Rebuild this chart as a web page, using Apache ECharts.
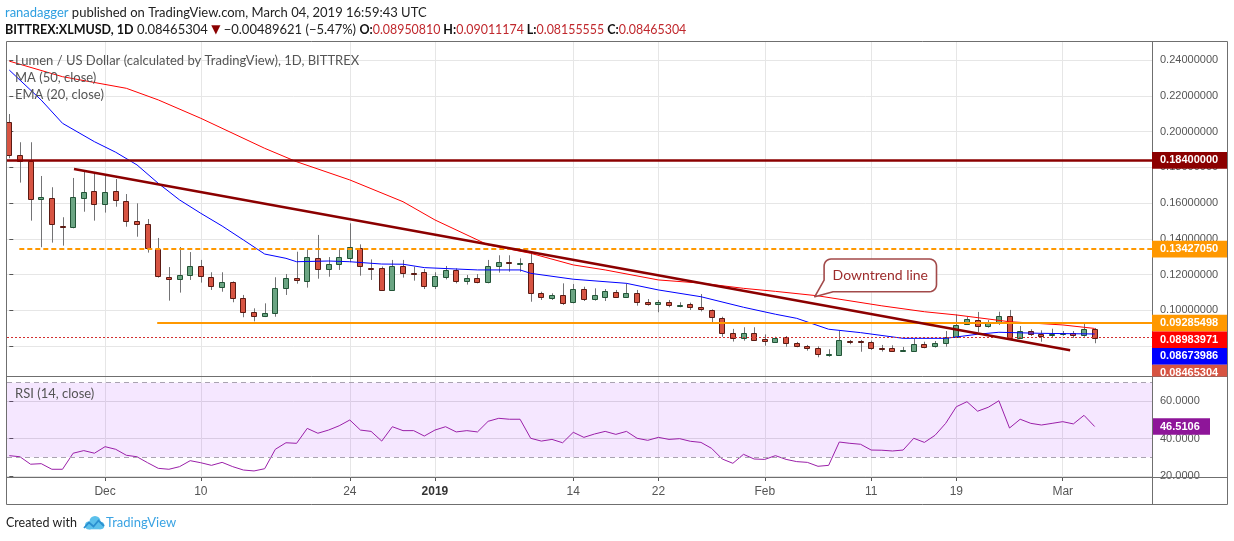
<!DOCTYPE html>
<html><head><meta charset="utf-8">
<script src="https://cdn.jsdelivr.net/npm/echarts@6/dist/echarts.min.js"></script>
<style>html,body{margin:0;padding:0;background:#fff}#c{width:1234px;height:541px}</style>
</head><body><div id="c"></div>
<script>
// ---- data (daily, index 0 = 2018-11-22 ... index 102 = 2019-03-04) ----
const startDate = Date.UTC(2018, 10, 22);
const dates = [];
for (let i = 0; i < 103; i++) dates.push(new Date(startDate + i * 86400000).toISOString().slice(0, 10));

const open = [.2052,.1868,.1834,.1621,.1627,.1472,.1468,.1631,.1666,.1593,.1668,.1610,.1498,.1481,.1341,.1188,.1173,.1196,.1246,.1185,.1129,.1157,.1067,.0989,.0966,.0983,.1123,.1179,.1162,.1291,.1229,.1257,.1291,.1347,.1239,.1235,.1116,.1248,.1207,.1213,.1138,.1188,.1226,.1162,.1179,.1157,.1246,.1269,.1262,.1263,.1095,.1071,.1084,.1048,.1117,.1065,.1076,.1103,.1076,.1095,.1045,.1035,.1045,.1031,.1033,.1017,.1002,.0959,.0875,.0843,.0875,.0839,.0824,.0849,.0815,.0798,.0787,.0754,.0750,.0826,.0826,.0821,.0789,.0787,.0778,.0774,.0810,.0798,.0815,.0852,.0922,.0944,.0910,.0927,.0966,.0847,.0882,.0869,.0861,.0866,.0873,.0859,.0895081];
const high = [.2099,.1941,.1941,.1752,.1689,.1521,.1741,.1776,.1767,.1752,.1735,.1651,.1599,.1511,.1405,.1242,.1354,.1326,.1282,.1213,.1213,.1162,.1086,.1011,.1039,.1185,.1203,.1328,.1341,.1422,.1298,.1347,.1487,.1369,.1285,.1245,.1282,.1282,.1244,.1231,.1213,.1248,.1235,.1198,.1203,.1282,.1308,.1308,.1291,.1325,.1104,.1095,.1151,.1147,.1132,.1123,.1119,.1114,.1151,.1114,.1063,.1058,.1058,.1045,.1043,.1091,.1005,.0964,.0896,.0905,.0905,.0865,.0852,.0856,.0823,.0806,.0798,.0782,.0884,.0834,.0834,.0830,.0806,.0804,.0795,.0839,.0824,.0828,.0884,.0977,.0964,.0991,.0945,.0992,.1002,.0912,.0894,.0888,.0897,.0884,.0884,.0933,.09011174];
const low = [.1851,.1715,.1502,.1353,.1379,.1362,.1459,.1552,.1502,.1547,.1580,.1468,.1412,.1323,.1183,.1054,.1099,.1170,.1155,.1114,.1104,.1045,.0961,.0938,.0962,.0964,.1086,.1149,.1127,.1177,.1188,.1226,.1269,.1194,.1170,.1110,.1110,.1183,.1166,.1119,.1119,.1173,.1151,.1144,.1151,.1151,.1211,.1216,.1216,.1048,.1058,.1058,.1030,.1039,.1052,.1054,.1052,.1071,.1071,.1026,.1026,.0989,.1017,.1017,.1002,.0994,.0933,.0852,.0825,.0830,.0830,.0802,.0819,.0796,.0793,.0774,.0737,.0740,.0746,.0810,.0768,.0778,.0769,.0768,.0768,.0770,.0787,.0791,.0796,.0849,.0918,.0879,.0903,.0918,.0834,.0843,.0856,.0824,.0846,.0858,.0846,.0852,.08155555];
const close = [.1868,.1834,.1621,.1633,.1481,.1468,.1633,.1661,.1593,.1661,.1616,.1498,.1481,.1347,.1190,.1173,.1196,.1246,.1190,.1134,.1157,.1067,.0989,.0966,.0983,.1123,.1179,.1168,.1297,.1229,.1257,.1297,.1353,.1246,.1233,.1116,.1248,.1207,.1204,.1138,.1192,.1226,.1166,.1179,.1157,.1246,.1269,.1263,.1264,.1095,.1073,.1084,.1043,.1117,.1063,.1084,.1108,.1076,.1095,.1045,.1033,.1045,.1028,.1032,.1017,.1005,.0961,.0875,.0843,.0875,.0832,.0826,.0843,.0815,.0798,.0787,.0754,.0755,.0832,.0821,.0821,.0787,.0787,.0774,.0780,.0810,.0793,.0817,.0852,.0916,.0950,.0910,.0929,.0966,.0843,.0884,.0865,.0856,.0869,.0872,.0859,.08954925,.08465304];

// MA (50, close) at these candle indexes
const maIdx = [0,5,11,14,18,24,27,32,37,40,45,49,53,56,61,65,69,72,76,82,86,89,94,99,102];
const maVal = [.2395,.2308,.2243,.2178,.2075,.1907,.1832,.1730,.1608,.1506,.1366,.1319,.1254,.1226,.1170,.1152,.1123,.1106,.1081,.1025,.0992,.0974,.0936,.0918,.08983971];
// EMA (20, close)
const emaIdx = [0,3,5,8,10,12,14,16,18,20,22,24,26,27,30,32,35,37,39,44,48,49,53,58,61,65,69,72,74,77,80,84,88,91,93,97,102];
const emaVal = [.2345,.2177,.2047,.1944,.1885,.1814,.1711,.1618,.1543,.1472,.1394,.1315,.1291,.1272,.1276,.1272,.1259,.1258,.1239,.1226,.1226,.1207,.1174,.1151,.1114,.1076,.1017,.0978,.0955,.0894,.0875,.0843,.0843,.0866,.0877,.0871,.08673986];
// RSI (14, close), one value per candle
const rsiVal = [30.9,30.3,26.3,26.6,23.6,23.6,32.2,33.6,32.2,35.7,34.3,31.1,30.3,27.1,24.1,23.6,25.0,28.2,27.1,25.7,27.3,25.0,23.2,22.7,23.9,34.3,37.8,37.5,45.5,42.9,44.6,46.9,50.0,44.6,43.9,38.7,46.4,44.3,44.3,41.4,44.6,46.4,43.6,44.3,43.6,49.3,50.9,50.4,50.4,40.2,38.7,39.6,37.8,43.4,40.7,42.5,43.9,42.3,43.9,40.2,39.1,40.7,39.6,40.0,38.6,38.0,34.8,29.1,26.8,31.6,29.1,28.9,30.9,28.9,27.7,27.3,25.2,25.7,38.2,37.5,37.0,33.9,33.8,33.4,33.9,40.2,38.0,41.8,48.2,57.1,59.8,54.7,56.8,60.3,45.7,50.4,48.2,47.3,48.2,49.1,47.9,52.5,46.5106];

// drawings
const resistance = 0.184;
const supportDashed = 0.1342705;
const supportSolid = 0.09285498;
const dashedStart = 0.94, solidStart = 13.9;
const trendStart = [6.08, 0.17912], trendEnd = [99.7, 0.0776];
const calloutTip = [75.7, 0.1076];

// ticks
const tickIdx = [9, 18, 32, 40, 53, 61, 71, 81, 89, 99];
const tickLabels = ['Dec', '10', '24', '2019', '14', '22', 'Feb', '11', '19', 'Mar'];
const priceTicks = [0.08, 0.10, 0.12, 0.14, 0.16, 0.18, 0.20, 0.22, 0.24];
const rsiTicks = [20, 40, 60];

// ---- chart ----
const X_MIN = -0.216, X_MAX = 107.39;
const Y_MIN = 0.063214, Y_MAX = 0.250224;
const R_MIN = 19.46, R_MAX = 73.03;
const AX_FONT = 'Liberation Sans';
const UI_FONT = 'Lato';

const candleData = open.map((o, i) => [i, o, close[i], low[i], high[i]]);
const maData = maIdx.map((x, k) => [x, maVal[k]]);
const emaData = emaIdx.map((x, k) => [x, emaVal[k]]);
const rsiData = rsiVal.map((v, i) => [i, v]);

const chart = echarts.init(document.getElementById('c'));

function xAxisCfg(grid, withLabels) {
  return {
    type: 'value', gridIndex: grid, min: X_MIN, max: X_MAX,
    axisLine: { show: false },
    axisTick: { show: withLabels, length: 4, customValues: tickIdx, lineStyle: { color: '#555' } },
    axisLabel: {
      show: withLabels, customValues: tickIdx, margin: 9, color: '#555', fontSize: 12, fontFamily: AX_FONT,
      formatter: v => { const k = tickIdx.indexOf(Math.round(v)); const t = k >= 0 ? tickLabels[k] : ''; return t === '2019' ? '{b|2019}' : t; },
      rich: { b: { fontWeight: 'bold', color: '#333', fontSize: 12, fontFamily: AX_FONT } }
    },
    splitLine: { show: true, lineStyle: { color: '#e6e6e6', width: 1 } }
  };
}

const option = {
  animation: false,
  textStyle: { fontFamily: UI_FONT },
  grid: [
    { left: 7, right: 82, top: 42, height: 334 },
    { left: 7, right: 82, top: 377, height: 100 }
  ],
  xAxis: [xAxisCfg(0, false), xAxisCfg(1, true)],
  yAxis: [
    {
      type: 'value', gridIndex: 0, position: 'right', min: Y_MIN, max: Y_MAX,
      axisLine: { show: false },
      axisTick: { show: true, length: 4, customValues: priceTicks, lineStyle: { color: '#555' } },
      axisLabel: { customValues: priceTicks, formatter: v => v.toFixed(8), margin: 8, color: '#555', fontSize: 11, fontFamily: AX_FONT },
      splitLine: { show: true, lineStyle: { color: '#e6e6e6' } }
    },
    {
      type: 'value', gridIndex: 1, position: 'right', min: R_MIN, max: R_MAX,
      axisLine: { show: false },
      axisTick: { show: true, length: 4, customValues: rsiTicks, lineStyle: { color: '#555' } },
      axisLabel: { customValues: rsiTicks, formatter: v => v.toFixed(4), margin: 8, color: '#555', fontSize: 11, fontFamily: AX_FONT },
      splitLine: { show: true, lineStyle: { color: '#e0e0e0' } }
    }
  ],
  series: [
    {
      name: 'XLMUSD', type: 'custom', xAxisIndex: 0, yAxisIndex: 0, clip: true, z: 2,
      encode: { x: 0, y: [1, 2, 3, 4] },
      data: candleData,
      renderItem: function (params, api) {
        const i = api.value(0), o = api.value(1), c = api.value(2), l = api.value(3), h = api.value(4);
        const po = api.coord([i, o]), pc = api.coord([i, c]), pl = api.coord([i, l]), ph = api.coord([i, h]);
        const rx = Math.round(po[0]);
        const up = c >= o;
        let top = Math.round(Math.min(po[1], pc[1])) + 0.5;
        let bot = Math.round(Math.max(po[1], pc[1])) + 0.5;
        if (bot - top < 1) bot = top + 1;
        return {
          type: 'group', children: [
            { type: 'line', shape: { x1: rx + 0.5, y1: ph[1], x2: rx + 0.5, y2: pl[1] }, style: { stroke: '#737375', lineWidth: 1 } },
            { type: 'rect', shape: { x: rx - 2.5, y: top, width: 5, height: bot - top },
              style: { fill: up ? '#6ba583' : '#d75442', stroke: up ? '#225437' : '#5b1a13', lineWidth: 1 } }
          ]
        };
      }
    },
    { name: 'MA (50, close)', type: 'line', xAxisIndex: 0, yAxisIndex: 0, data: maData, showSymbol: false, z: 3,
      lineStyle: { color: '#ff0000', width: 1 }, silent: true },
    { name: 'EMA (20, close)', type: 'line', xAxisIndex: 0, yAxisIndex: 0, data: emaData, showSymbol: false, z: 3,
      lineStyle: { color: '#0000ff', width: 1 }, silent: true },
    {
      name: 'drawings', type: 'line', xAxisIndex: 0, yAxisIndex: 0, data: [[X_MIN, resistance]], showSymbol: false, z: 4,
      lineStyle: { opacity: 0 }, silent: true,
      markLine: {
        silent: true, symbol: ['none', 'none'], label: { show: false }, animation: false, precision: 10,
        data: [
          { yAxis: close[close.length - 1], lineStyle: { color: '#d32f2f', width: 1, type: [2, 2] } },
          { yAxis: resistance, lineStyle: { color: '#8b0000', width: 2.5, type: 'solid' } },
          [{ coord: [dashedStart, supportDashed] }, { coord: [X_MAX, supportDashed], lineStyle: { color: '#ff9800', width: 2, type: [5, 3] } }],
          [{ coord: [solidStart, supportSolid] }, { coord: [X_MAX, supportSolid], lineStyle: { color: '#ff9800', width: 2, type: 'solid' } }],
          [{ coord: trendStart }, { coord: trendEnd, lineStyle: { color: '#8b0000', width: 2.5, type: 'solid' } }]
        ]
      }
    },
    {
      name: 'RSI', type: 'line', xAxisIndex: 1, yAxisIndex: 1, data: rsiData, showSymbol: false, z: 3,
      lineStyle: { color: '#9a1fa8', width: 1 }, silent: true,
      markArea: { silent: true, itemStyle: { color: 'rgba(153,21,255,0.1)' }, data: [[{ yAxis: 30 }, { yAxis: 70 }]] },
      markLine: { silent: true, symbol: ['none', 'none'], label: { show: false }, precision: 10,
        lineStyle: { color: '#a9a3b0', width: 1, type: [5, 4] }, data: [{ yAxis: 30 }, { yAxis: 70 }] }
    }
  ]
};
chart.setOption(option);

// ---- overlays: frame, texts, price labels ----
const G = [];
const FR = '#6f6f6f';
function hline(y, x1, x2, c) { G.push({ type: 'line', z: 90, shape: { x1: x1, y1: y, x2: x2, y2: y }, style: { stroke: c || FR, lineWidth: 1 } }); }
function vline(x, y1, y2, c) { G.push({ type: 'line', z: 90, shape: { x1: x, y1: y1, x2: x, y2: y2 }, style: { stroke: c || FR, lineWidth: 1 } }); }
function txt(x, y, text, style) { G.push({ type: 'text', z: 100, x: x, y: y, style: Object.assign({ text: text, align: 'left', verticalAlign: 'middle', fill: '#555', fontSize: 13, fontFamily: UI_FONT }, style || {}) }); }

// price labels on the right axis (stacked so they do not overlap)
const BOX_H = 16.7;
const stack = [
  { v: resistance, bg: '#8b0000', t: resistance.toFixed(8) },
  { v: supportDashed, bg: '#ff9800', t: supportDashed.toFixed(8) },
  { v: supportSolid, bg: '#ff9800', t: supportSolid.toFixed(8) },
  { v: maVal[maVal.length - 1], bg: '#ff0000', t: maVal[maVal.length - 1].toFixed(8) },
  { v: emaVal[emaVal.length - 1], bg: '#0000ff', t: emaVal[emaVal.length - 1].toFixed(8) },
  { v: close[close.length - 1], bg: '#d75442', t: close[close.length - 1].toFixed(8) }
];
let prev = -1e9;
stack.forEach(s => {
  const own = chart.convertToPixel({ gridIndex: 0 }, [0, s.v])[1];
  const cy = Math.max(own, prev + BOX_H);
  prev = cy;
  const top = cy - BOX_H / 2;
  const h = Math.min(BOX_H, 376.5 - top);
  G.push({ type: 'rect', z: 95, shape: { x: 1152, y: top, width: 75, height: h }, style: { fill: s.bg } });
  txt(1160, cy, s.t, { fill: '#fff', fontSize: 11, fontWeight: 'bold', fontFamily: AX_FONT });
});
{
  const rv = rsiVal[rsiVal.length - 1];
  const cy = chart.convertToPixel({ gridIndex: 1 }, [0, rv])[1];
  G.push({ type: 'rect', z: 95, shape: { x: 1153, y: cy - BOX_H / 2, width: 57, height: BOX_H }, style: { fill: '#8e1599' } });
  txt(1160, cy, rv.toFixed(4), { fill: '#fff', fontSize: 11, fontWeight: 'bold', fontFamily: AX_FONT });
}

// frame and separators
hline(41.5, 6.5, 1227.5);
hline(504.5, 6.5, 1227.5);
vline(6.5, 41.5, 504.5);
vline(1227.5, 41.5, 504.5);
vline(1152.5, 41.5, 504.5);
hline(376.5, 6.5, 1227.5);
hline(477.5, 6.5, 1227.5);

// callout "Downtrend line"
{
  const tip = chart.convertToPixel({ gridIndex: 0 }, calloutTip);
  const ox = tip[0] + 9.3, oy = tip[1] - 37.7, w = 112.4, h = 32.7, r = 7;
  const pts = [];
  function arc(cx, cy, a0, a1) { for (let k = 0; k <= 6; k++) { const a = (a0 + (a1 - a0) * k / 6) * Math.PI / 180; pts.push([ox + cx + r * Math.cos(a), oy + cy + r * Math.sin(a)]); } }
  arc(r, r, 180, 270);
  arc(w - r, r, 270, 360);
  arc(w - r, h - r, 0, 90);
  pts.push([ox + 9, oy + h]);
  pts.push([tip[0], tip[1]]);
  pts.push([ox, oy + 21]);
  G.push({ type: 'polygon', z: 96, shape: { points: pts }, style: { fill: '#fff', stroke: '#a24a4a', lineWidth: 1.6, lineJoin: 'round' } });
  G.push({ type: 'text', z: 97, x: ox + w / 2, y: oy + h / 2, style: { text: 'Downtrend line', align: 'center', verticalAlign: 'middle', fill: '#9c2b2b', fontSize: 14, fontFamily: UI_FONT } });
}

// in-chart legends
txt(15, 61, 'Lumen / US Dollar (calculated by TradingView), 1D, BITTREX');
txt(15, 78, 'MA (50, close)');
txt(15, 95, 'EMA (20, close)');
txt(15, 394, 'RSI (14, close)');

// header
G.push({ type: 'text', z: 100, x: 5, y: 13, style: {
  text: '{u|ranadagger}{t| published on TradingView.com, March 04, 2019 16:59:43 UTC}', align: 'left', verticalAlign: 'middle',
  rich: { u: { fill: '#2e9fe0', fontSize: 13, fontFamily: UI_FONT }, t: { fill: '#222', fontSize: 13, fontFamily: UI_FONT } } } });
G.push({ type: 'text', z: 100, x: 5, y: 30, style: {
  text: '{b|BITTREX:XLMUSD, 1D}{n| 0.08465304 }{d|▼}{n| −0.00489621 (−5.47%) }{b|O:}{v|0.08950810}{b| H:}{v|0.09011174}{b| L:}{v|0.08155555}{b| C:}{v|0.08465304}',
  align: 'left', verticalAlign: 'middle',
  rich: {
    b: { fill: '#111', fontSize: 12.5, fontWeight: 'bold', fontFamily: UI_FONT },
    n: { fill: '#222', fontSize: 13, fontFamily: UI_FONT },
    d: { fill: '#8b0000', fontSize: 12, fontFamily: 'DejaVu Sans' },
    v: { fill: '#c0282d', fontSize: 12.4, fontFamily: UI_FONT }
  } } });

// footer
txt(6, 523, 'Created with', { fill: '#222', fontSize: 12.5 });
G.push({ type: 'circle', z: 100, shape: { cx: 89, cy: 525.5, r: 4 }, style: { fill: '#5bc0eb' } });
G.push({ type: 'circle', z: 100, shape: { cx: 95, cy: 521.5, r: 5.5 }, style: { fill: '#5bc0eb' } });
G.push({ type: 'circle', z: 100, shape: { cx: 100.5, cy: 525.5, r: 3.8 }, style: { fill: '#5bc0eb' } });
G.push({ type: 'rect', z: 100, shape: { x: 89, y: 524, width: 11.5, height: 5.3 }, style: { fill: '#5bc0eb' } });
G.push({ type: 'polyline', z: 101, shape: { points: [[84, 528], [89, 522.5], [93.5, 526.5], [98.5, 520.5], [104, 526]] }, style: { stroke: '#2a8fd0', lineWidth: 1.8, fill: 'none' } });
txt(106, 523, 'TradingView', { fill: '#3aa3e3', fontSize: 13 });

chart.setOption({ graphic: G });
</script>
</body></html>
